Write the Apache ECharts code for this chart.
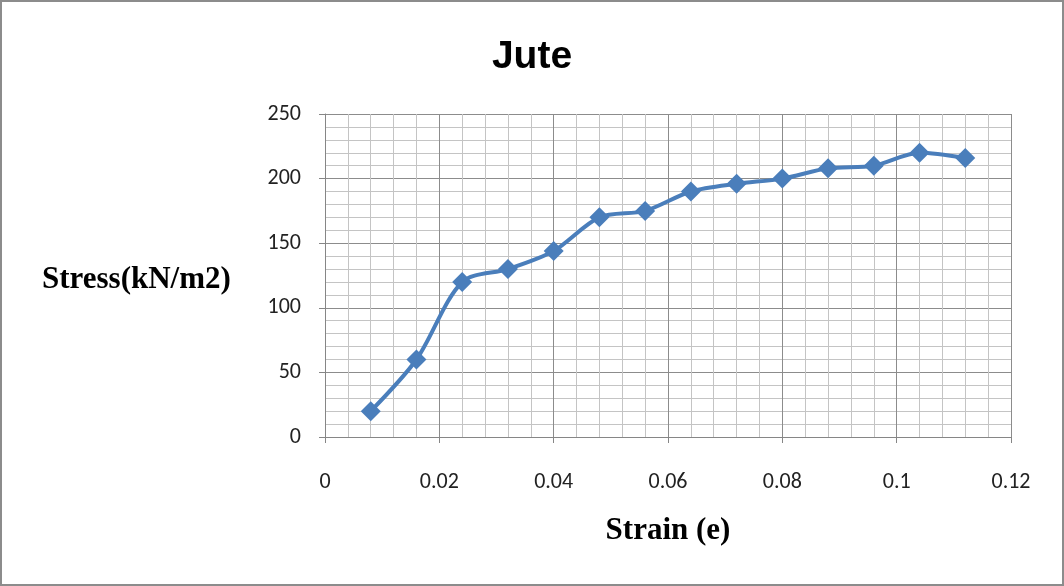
<!DOCTYPE html>
<html><head><meta charset="utf-8">
<script src="https://cdn.jsdelivr.net/npm/echarts@6/dist/echarts.min.js"></script>
<style>html,body{margin:0;padding:0;background:#fff}#c{width:1064px;height:586px;box-sizing:border-box;border:2px solid #8c8c8c;}</style>
</head><body><div id="c"></div>
<script>
const strain = [0.008,0.016,0.024,0.032,0.040,0.048,0.056,0.064,0.072,0.080,0.088,0.096,0.104,0.112];
const stress = [20,60,120,130,144,170,175,190,196,200,208,210,220,216];
const chart = echarts.init(document.getElementById('c'));
const tickFont = {fontFamily:'Carlito, "Liberation Sans", Arial, sans-serif', fontSize:22, color:'#222'};
chart.setOption({
  animation:false,
  title:{text:'Jute',left:'center',top:31,textStyle:{fontFamily:'"Liberation Sans", Arial, sans-serif',fontWeight:'bold',fontSize:39,color:'#000'}},
  grid:{left:323,right:51,top:112,bottom:147},
  xAxis:{type:'value',min:0,max:0.12,interval:0.02,
    name:'Strain (e)',nameLocation:'middle',nameGap:78,
    nameTextStyle:{fontFamily:'"Liberation Serif", "Times New Roman", serif',fontWeight:'bold',fontSize:31,color:'#000'},
    axisLine:{show:true,lineStyle:{color:'#868686',width:1}},
    axisTick:{show:true,length:6,inside:false,lineStyle:{color:'#868686'}},
    axisLabel:Object.assign({margin:34,formatter:v=>String(+v.toFixed(2))},tickFont),
    splitLine:{show:true,lineStyle:{color:'#8c8c8c',width:1}},
    minorTick:{show:false,splitNumber:5},
    minorSplitLine:{show:true,lineStyle:{color:'#c4c4c4',width:1}}
  },
  yAxis:{type:'value',min:0,max:250,interval:50,
    axisLine:{show:true,lineStyle:{color:'#868686',width:1}},
    axisTick:{show:true,length:6,lineStyle:{color:'#868686'}},
    axisLabel:Object.assign({margin:24},tickFont),
    splitLine:{show:true,lineStyle:{color:'#8c8c8c',width:1}},
    minorTick:{show:false,splitNumber:5},
    minorSplitLine:{show:true,lineStyle:{color:'#c4c4c4',width:1}}
  },
  graphic:[{type:'text',x:40,y:278,style:{text:'Stress(kN/m2)',verticalAlign:'middle',font:'bold 31px "Liberation Serif", "Times New Roman", serif',fill:'#000'}}],
  series:[{type:'line',data:strain.map((x,i)=>[x,stress[i]]),smooth:0.3,
    symbol:'diamond',symbolSize:20,
    lineStyle:{color:'#4a7ebb',width:4},
    itemStyle:{color:'#4a7ebb'}
  }]
});
</script></body></html>
